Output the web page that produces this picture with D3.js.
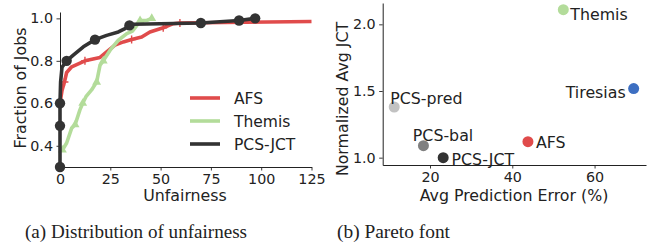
<!DOCTYPE html>
<html><head><meta charset="utf-8">
<script src="https://cdn.jsdelivr.net/npm/d3@7"></script>
<style>
html,body{margin:0;padding:0;background:#fff;}
svg{display:block;}
text{font-family:"DejaVu Sans",sans-serif;fill:#222;}
</style></head>
<body>
<svg id="c" width="651" height="252"></svg>
<script>
// ---------- DATA ----------
// (a) CDF of unfairness
const afsX = [0, 1, 2.2, 3.3, 5.8, 12.4, 19.9, 23.2, 27.3, 31.5, 35.6, 40.6, 44.7, 51.3, 56.3, 59.6, 125];
const afsY = [0.60, 0.66, 0.70, 0.745, 0.772, 0.80, 0.816, 0.842, 0.874, 0.889, 0.90, 0.912, 0.936, 0.956, 0.975, 0.978, 0.985];
const afsMarks = [2, 5, 10, 13, 15];

const themisX = [1.2, 3.3, 5.8, 7.5, 9.9, 11.3, 12.9, 15.7, 18.2, 19.9, 21.5, 24.9, 29, 33.2, 36, 38.2, 39.8, 43.1, 45.6];
const themisY = [0.38, 0.413, 0.483, 0.499, 0.569, 0.60, 0.631, 0.663, 0.70, 0.78, 0.80, 0.85, 0.897, 0.928, 0.94, 0.967, 0.99, 0.99, 1.0];
const themisMarks = [0, 3, 5, 8, 10, 16, 18];

const pcsX = [0, 0, 0, 0.3, 1, 3.3, 6.6, 11.6, 17.4, 23.2, 29, 32.3, 34.5, 36.4, 70, 89, 97];
const pcsY = [0.30, 0.494, 0.60, 0.70, 0.77, 0.80, 0.827, 0.866, 0.90, 0.92, 0.936, 0.952, 0.967, 0.972, 0.978, 0.99, 1.0];
const pcsMarks = [0, 1, 2, 5, 8, 12, 14, 15, 16];

const cdfNames = ["AFS", "Themis", "PCS-JCT"];
const cdfXTicks = [0, 25, 50, 75, 100, 125];
const cdfYTicks = [0.4, 0.6, 0.8, 1.0];

// (b) Pareto front
const schedNames = ["Themis", "Tiresias", "PCS-pred", "PCS-bal", "PCS-JCT", "AFS"];
const predError  = [52.4, 69.5, 11.3, 18.4, 23.2, 43.8];
const normJCT    = [2.11, 1.518, 1.38, 1.09, 1.0, 1.12];
const paretoXTicks = [20, 40, 60];
const paretoYTicks = [1.0, 1.5, 2.0];

const captions = ["(a) Distribution of unfairness", "(b) Pareto font"];

// ---------- STYLE ----------
const cdfColors = {"AFS": "#e04b4b", "Themis": "#b3dc9a", "PCS-JCT": "#333333"};
const ptColors = {"Themis": "#b3dc9a", "Tiresias": "#3d6fc2", "PCS-pred": "#c2c2c2",
                  "PCS-bal": "#808080", "PCS-JCT": "#333333", "AFS": "#e04b4b"};
// label offsets [dx, dy, anchor]
const labelLayout = {"Themis": [7, 5, "start"], "Tiresias": [-8, 4, "end"], "PCS-pred": [-4, -9, "start"],
                     "PCS-bal": [-10.6, -10, "start"], "PCS-JCT": [8.4, 1.5, "start"], "AFS": [8, 0.6, "start"]};

const svg = d3.select("#c");

// ---------- (a) ----------
const xa = d3.scaleLinear().domain([0, 125]).range([60, 311.5]);
const ya = d3.scaleLinear().domain([0.3, 1.03]).range([167, 12]);

function styleAxis(g) {
  g.selectAll("path.domain").attr("stroke", "#222").attr("stroke-width", 1);
  g.selectAll(".tick line").attr("stroke", "#222").attr("stroke-width", 0.9);
  g.selectAll(".tick text").attr("font-family", "DejaVu Sans").attr("font-size", 14.3).attr("fill", "#222");
}

const gA = svg.append("g");
gA.append("g").attr("transform", `translate(0,${ya.range()[0]})`)
  .call(d3.axisBottom(xa).tickValues(cdfXTicks).tickFormat(d3.format("d")).tickSize(3.5).tickSizeOuter(0).tickPadding(3))
  .call(styleAxis);
gA.append("g").attr("transform", `translate(${xa.range()[0]},0)`)
  .call(d3.axisLeft(ya).tickValues(cdfYTicks).tickFormat(d3.format(".1f")).tickSize(3.5).tickSizeOuter(0).tickPadding(3.5))
  .call(styleAxis);

const series = [
  {name: "AFS", xs: afsX, ys: afsY, marks: afsMarks, marker: "plus"},
  {name: "Themis", xs: themisX, ys: themisY, marks: themisMarks, marker: "tri"},
  {name: "PCS-JCT", xs: pcsX, ys: pcsY, marks: pcsMarks, marker: "circle"}
];
const line = d3.line().x(d => xa(d[0])).y(d => ya(d[1])).curve(d3.curveLinear);
const plot = gA.append("g");
series.forEach(s => {
  const pts = s.xs.map((x, i) => [x, s.ys[i]]);
  const col = cdfColors[s.name];
  plot.append("path").datum(pts).attr("d", line).attr("fill", "none")
    .attr("stroke", col).attr("stroke-width", 3.6).attr("stroke-linejoin", "round").attr("stroke-linecap", "butt");
  const mp = s.marks.map(i => pts[i]);
  if (s.marker === "circle") {
    plot.selectAll(null).data(mp).enter().append("circle")
      .attr("cx", d => xa(d[0])).attr("cy", d => ya(d[1])).attr("r", 5.2).attr("fill", col);
  } else if (s.marker === "tri") {
    plot.selectAll(null).data(mp).enter().append("path")
      .attr("d", d3.symbol(d3.symbolTriangle, 34))
      .attr("transform", d => `translate(${xa(d[0])},${ya(d[1])})`).attr("fill", col);
  } else {
    plot.selectAll(null).data(mp).enter().append("path")
      .attr("d", "M-4,0H4M0,-4V4")
      .attr("transform", d => `translate(${xa(d[0])},${ya(d[1])})`).attr("stroke", col).attr("stroke-width", 1.4);
  }
});

// legend
const leg = gA.append("g");
cdfNames.forEach((n, i) => {
  const y = 98 + i * 23;
  leg.append("line").attr("x1", 190).attr("x2", 220).attr("y1", y).attr("y2", y)
    .attr("stroke", cdfColors[n]).attr("stroke-width", 3.6);
  leg.append("text").attr("x", 234).attr("y", y + 5.5).attr("font-size", 15.5).text(n);
});

gA.append("text").attr("x", 185).attr("y", 201).attr("text-anchor", "middle").attr("font-size", 15.8).text("Unfairness");
gA.append("text").attr("transform", "translate(26,88) rotate(-90)").attr("text-anchor", "middle")
  .attr("font-size", 15.8).text("Fraction of Jobs");

// ---------- (b) ----------
const xb = d3.scaleLinear().domain([8.5, 72.5]).range([382.7, 646]);
const yb = d3.scaleLinear().domain([0.945, 2.16]).range([165, 3]);
const gB = svg.append("g");
gB.append("g").attr("transform", `translate(0,${yb.range()[0]})`)
  .call(d3.axisBottom(xb).tickValues(paretoXTicks).tickFormat(d3.format("d")).tickSize(3.5).tickSizeOuter(0).tickPadding(3))
  .call(styleAxis);
gB.append("g").attr("transform", `translate(${xb.range()[0]},0)`)
  .call(d3.axisLeft(yb).tickValues(paretoYTicks).tickFormat(d3.format(".1f")).tickSize(3.5).tickSizeOuter(0).tickPadding(3.5))
  .call(styleAxis);

schedNames.forEach((n, i) => {
  const cx = xb(predError[i]), cy = yb(normJCT[i]);
  gB.append("circle").attr("cx", cx).attr("cy", cy).attr("r", 5.5).attr("fill", ptColors[n]);
  const L = labelLayout[n];
  gB.append("text").attr("x", cx + L[0]).attr("y", cy + L[1]).attr("dy", "0.35em")
    .attr("text-anchor", L[2]).attr("font-size", 15.8).text(n);
});

gB.append("text").attr("x", 514).attr("y", 201).attr("text-anchor", "middle").attr("font-size", 15.8).text("Avg Prediction Error (%)");
gB.append("text").attr("transform", "translate(348,99) rotate(-90)").attr("text-anchor", "middle")
  .attr("font-size", 15.8).text("Normalized Avg JCT");

// ---------- captions ----------
svg.append("text").attr("x", 25).attr("y", 237.5)
  .attr("font-size", 19).attr("textLength", 222).attr("lengthAdjust", "spacingAndGlyphs").style("font-family", "'Liberation Serif',serif").text(captions[0]);
svg.append("text").attr("x", 337).attr("y", 237.5)
  .attr("font-size", 19).attr("textLength", 113).attr("lengthAdjust", "spacingAndGlyphs").style("font-family", "'Liberation Serif',serif").text(captions[1]);
</script>
</body></html>
